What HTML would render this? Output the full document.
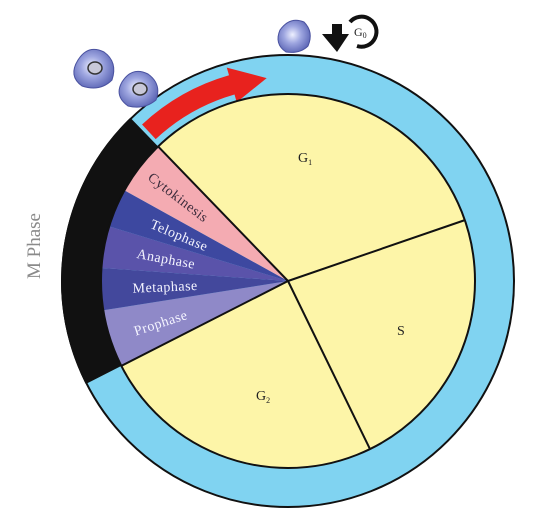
<!DOCTYPE html>
<html><head><meta charset="utf-8"><style>
html,body{margin:0;padding:0;background:#fff;width:535px;height:522px;overflow:hidden}
svg{display:block}
text{font-family:"Liberation Serif",serif}
</style></head><body>
<svg id="chart" width="535" height="522" viewBox="0 0 535 522">
<defs>
<radialGradient id="cellg" cx="0.45" cy="0.45" r="0.6">
<stop offset="0" stop-color="#eef0ff"/><stop offset="0.45" stop-color="#9ea6e0"/><stop offset="1" stop-color="#5a64b4"/>
</radialGradient>
</defs>
<text x="0" y="0" transform="translate(40,246) rotate(-90)" text-anchor="middle" font-size="19" fill="#8a8a8a">M Phase</text>
<g id="ring"></g>
<g id="pie"></g>
<g id="labels"></g>
<g>
<path d="M78,60 Q88,44 104,52 Q118,62 112,80 Q100,92 82,86 Q68,76 78,60Z" fill="url(#cellg)" stroke="#4a52a0" stroke-width="1"/>
<ellipse cx="95" cy="68" rx="7" ry="6" fill="#c8c8d8" stroke="#333" stroke-width="1.5"/>
<path d="M122,82 Q132,66 148,74 Q162,84 156,100 Q144,110 128,106 Q114,96 122,82Z" fill="url(#cellg)" stroke="#4a52a0" stroke-width="1"/>
<ellipse cx="140" cy="89" rx="7" ry="6" fill="#c8c8d8" stroke="#333" stroke-width="1.5"/>
<path d="M280,30 Q290,16 304,22 Q314,32 308,46 Q300,54 286,52 Q274,44 280,30Z" fill="url(#cellg)" stroke="#4a52a0" stroke-width="1"/>
<path d="M332,24 L342,24 L342,34 L349,34 L337,52 L322,34 L332,34Z" fill="#111"/>
<path d="M350,22 A15,15 0 1 1 357,46" fill="none" stroke="#111" stroke-width="4"/>
<text x="354" y="36" font-size="12" fill="#222">G<tspan font-size="8" dy="2">0</tspan></text>
</g>
</svg>
<script>
// phase boundaries (degrees, screen coords)
const phaseNames = ["G1","S","G2","Prophase","Metaphase","Anaphase","Telophase","Cytokinesis"];
const phaseStart = [-134, -19, 64, 153, 171, -176, -163, -151];
const phaseEnd   = [-19, 64, 153, 171, 184, -163, -151, -134];
const phaseColors = ["#fdf5a8","#fdf5a8","#fdf5a8","#8f89c8","#43489c","#5a53aa","#3d48a0","#f4abb2"];
const labelRadius = [0,0,0,134,123,124,118,138];
const cx=288, cy=281, rOut=226, rIn=187;
const NS="http://www.w3.org/2000/svg";
function pt(r,a){const t=a*Math.PI/180;return [cx+r*Math.cos(t),cy+r*Math.sin(t)];}
function sector(r0,r1,a0,a1){
  let d=a1-a0; if(d<0)d+=360;
  const large=d>180?1:0, e=a0+d;
  const p1=pt(r1,a0),p2=pt(r1,e);
  if(r0===0) return `M${cx},${cy} L${p1} A${r1},${r1} 0 ${large} 1 ${p2} Z`;
  const p3=pt(r0,e),p4=pt(r0,a0);
  return `M${p1} A${r1},${r1} 0 ${large} 1 ${p2} L${p3} A${r0},${r0} 0 ${large} 0 ${p4} Z`;
}
const ring=document.getElementById('ring');
let c=document.createElementNS(NS,'circle');


c.setAttribute('cx',cx);c.setAttribute('cy',cy);c.setAttribute('r',rOut);
c.setAttribute('fill','#80d3f1');c.setAttribute('stroke','#111');c.setAttribute('stroke-width','2');
ring.appendChild(c);
let blk=document.createElementNS(NS,'path');


blk.setAttribute('d',sector(rIn,rOut+1,153,-134));
blk.setAttribute('fill','#111');
ring.appendChild(blk);
// red arrow
const a0=-133,a1=-106,ri=194,ro=214;
const arr=document.createElementNS(NS,'path');


const q1=pt(ro,a0),q2=pt(ro,a1),q3=pt(ro+8,a1),tip=pt(204,-96),q4=pt(ri-8,a1),q5=pt(ri,a1),q6=pt(ri,a0);
arr.setAttribute('d',`M${q1} A${ro},${ro} 0 0 1 ${q2} L${q3} L${tip} L${q4} L${q5} A${ri},${ri} 0 0 0 ${q6} Z`);
arr.setAttribute('fill','#e8221e');
ring.appendChild(arr);
const pie=document.getElementById('pie');
phaseNames.forEach((n,i)=>{
  const p=document.createElementNS(NS,'path');
  
  
  p.setAttribute('d',sector(0,rIn,phaseStart[i],phaseEnd[i]));
  p.setAttribute('fill',phaseColors[i]);
  pie.appendChild(p);
});
const ic=document.createElementNS(NS,'circle');


ic.setAttribute('cx',cx);ic.setAttribute('cy',cy);ic.setAttribute('r',rIn);
ic.setAttribute('fill','none');ic.setAttribute('stroke','#111');ic.setAttribute('stroke-width','2');
pie.appendChild(ic);
[0,1,2,3].forEach(i=>{
  const l=document.createElementNS(NS,'line');
  
  
  const e=pt(rIn,phaseStart[i]);
  l.setAttribute('x1',cx);l.setAttribute('y1',cy);l.setAttribute('x2',e[0]);l.setAttribute('y2',e[1]);
  l.setAttribute('stroke','#111');l.setAttribute('stroke-width','2');
  pie.appendChild(l);
});
const labels=document.getElementById('labels');
const big=[["G1",298,162,"1"],["S",397,335,""],["G2",256,400,"2"]];
big.forEach(b=>{
  const t=document.createElementNS(NS,'text');
  
  
  t.setAttribute('x',b[1]);t.setAttribute('y',b[2]);t.setAttribute('font-size','14');t.setAttribute('fill','#222');
  t.textContent=b[0][0];
  if(b[3]){const s=document.createElementNS(NS,'tspan');s.setAttribute('font-size','8');s.setAttribute('dy','3');s.textContent=b[3];t.appendChild(s);}
  labels.appendChild(t);
});
for(let i=3;i<8;i++){
  let s=phaseStart[i],e=phaseEnd[i]; if(e<s)e+=360;
  const m=(s+e)/2, p=pt(labelRadius[i],m);
  const t=document.createElementNS(NS,'text');
  
  
  t.setAttribute('transform',`translate(${p[0]},${p[1]}) rotate(${m+180})`);
  t.setAttribute('text-anchor','middle');t.setAttribute('dy','5');
  t.setAttribute('font-size','14');t.setAttribute('letter-spacing','0.5');
  t.setAttribute('fill',i===7?'#3a2a3a':'#f4f4ff');
  t.textContent=phaseNames[i];
  labels.appendChild(t);
}
</script>
</body></html>
